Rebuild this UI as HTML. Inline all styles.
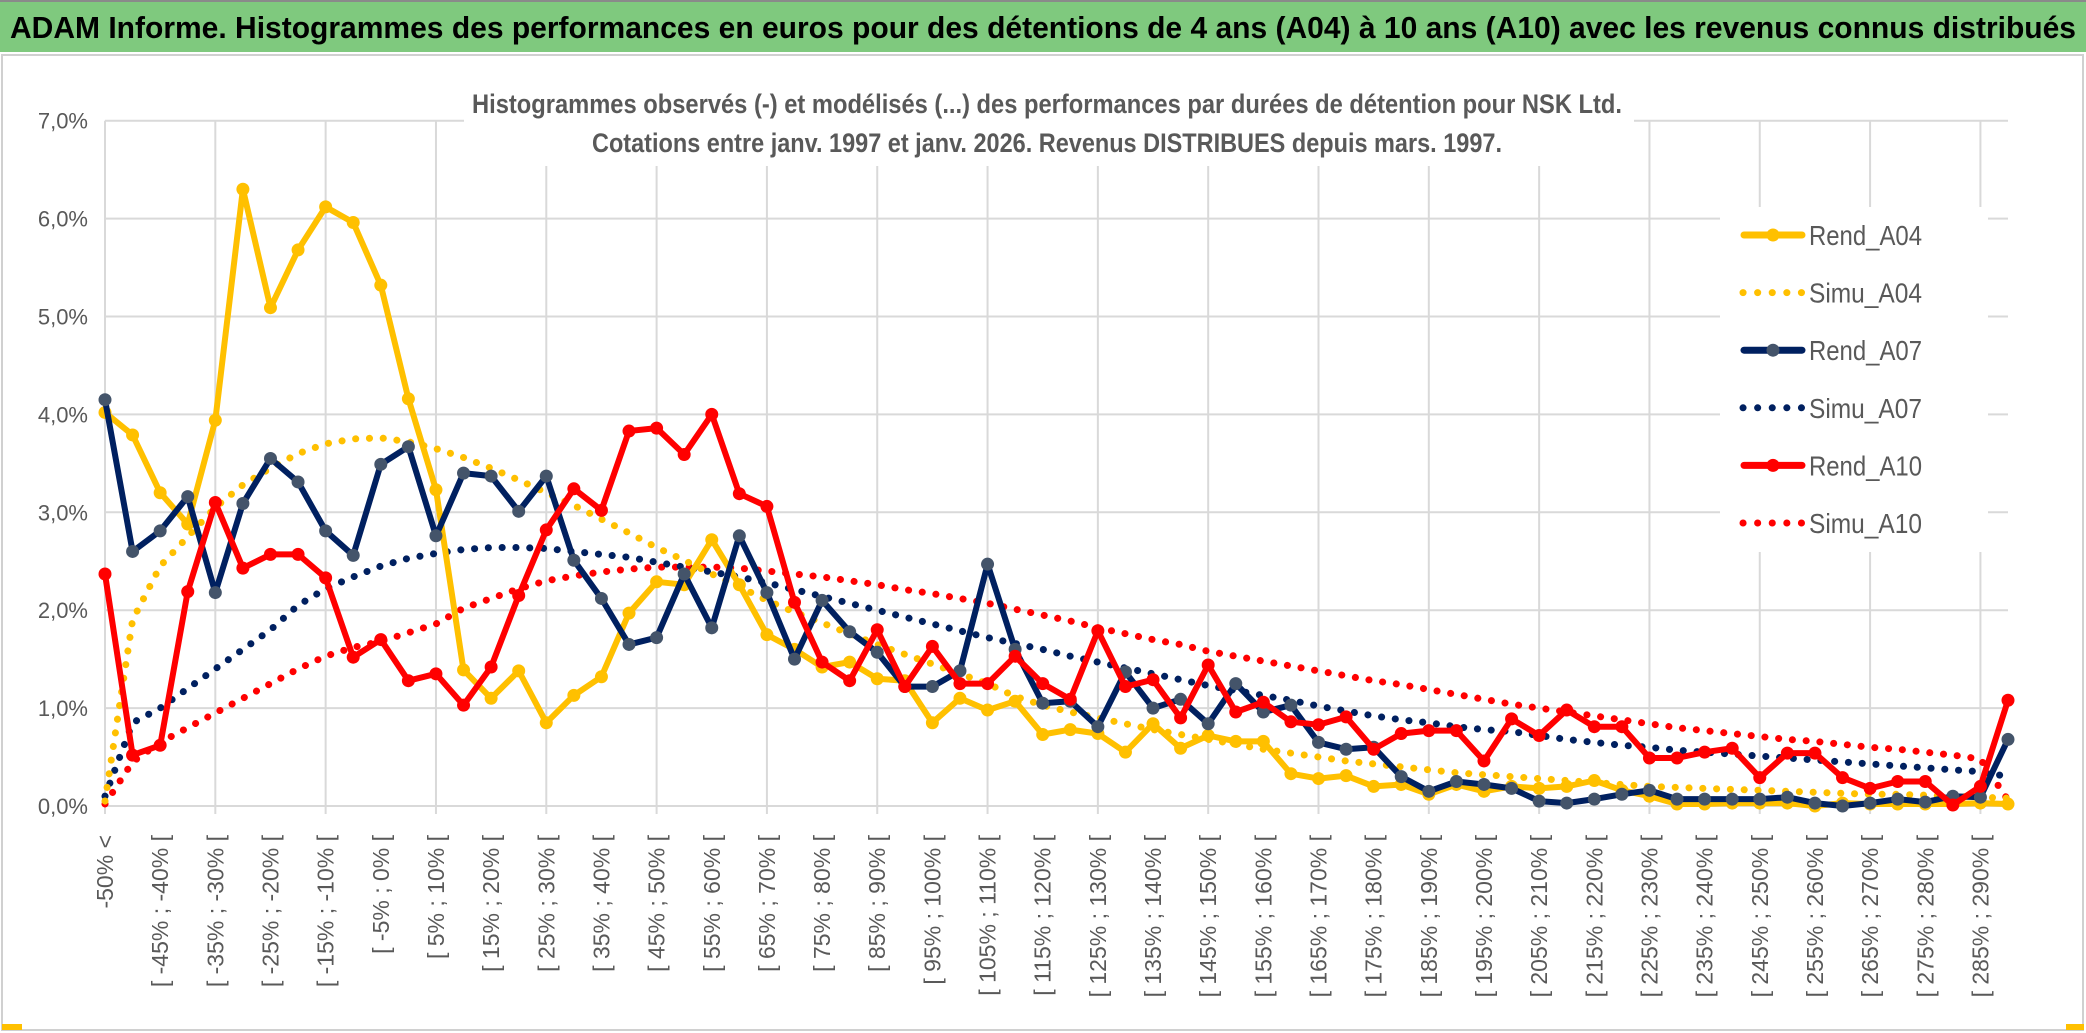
<!DOCTYPE html>
<html><head><meta charset="utf-8"><style>
html,body{margin:0;padding:0;background:#fff;}
svg{display:block;}
text{font-family:"Liberation Sans",sans-serif;}
</style></head><body>
<svg id="chart" width="2086" height="1033" viewBox="0 0 2086 1033" xmlns="http://www.w3.org/2000/svg">
<rect x="0" y="0" width="2086" height="1033" fill="#fff"/>
<rect x="0" y="2" width="2086" height="50" fill="#7fc97e"/>
<line x1="0" y1="1" x2="2086" y2="1" stroke="#8a8a8a" stroke-width="2"/>
<text x="1043" y="38" text-anchor="middle" font-size="31" font-weight="bold" fill="#000" textLength="2066" lengthAdjust="spacingAndGlyphs">ADAM Informe. Histogrammes des performances en euros pour des détentions de 4 ans (A04) à 10 ans (A10) avec les revenus connus distribués</text>
<rect x="2" y="55" width="2081" height="975" fill="none" stroke="#d0d0d0" stroke-width="2"/>
<g id="grid"></g>
<g id="series"></g>
<rect x="464" y="80" width="1170" height="86" fill="#fff"/>
<text x="1047" y="113" text-anchor="middle" font-size="27" font-weight="600" fill="#595959" textLength="1150" lengthAdjust="spacingAndGlyphs">Histogrammes observés (-) et modélisés (...) des performances par durées de détention pour NSK Ltd.</text>
<text x="1047" y="152" text-anchor="middle" font-size="27" font-weight="600" fill="#595959" textLength="910" lengthAdjust="spacingAndGlyphs">Cotations entre janv. 1997 et janv. 2026. Revenus DISTRIBUES depuis mars. 1997.</text>
<g id="yaxis"></g>
<g id="xaxis"></g>
<g id="legend"></g>
<rect x="2" y="1024" width="20" height="6" fill="#ffc000"/>
<rect x="2066" y="1024" width="18" height="6" fill="#ffc000"/>
</svg>
<script>
const yTicks = [0,1,2,3,4,5,6,7];
const yTickLabels = ["0,0%","1,0%","2,0%","3,0%","4,0%","5,0%","6,0%","7,0%"];
const categories = ["-50% <"];
for (let k = 1; k < 70; k++) { categories.push("[ " + (-55 + 5*k) + "% ; " + (-50 + 5*k) + "% ["); }
const rendA04 = [4.02,3.79,3.20,2.88,3.94,6.30,5.09,5.68,6.12,5.96,5.32,4.16,3.23,1.39,1.10,1.38,0.85,
 1.13,1.32,1.97,2.29,2.26,2.72,2.26,1.75,1.6,1.42,1.47,1.3,1.28,0.85,1.1,0.98,1.07,
 0.73,0.78,0.74,0.55,0.84,0.59,0.72,0.66,0.66,0.33,0.28,0.31,
 0.2,0.22,0.12,0.22,0.15,0.2,0.18,0.2,0.26,0.16,0.1,0.02,
 0.02,0.03,0.03,0.03,0.0,0.03,0.02,0.02,0.02,0.02,0.03,0.02];
const simuA04 = [0.05,1.9,2.45,2.75,3.05,3.28,3.45,3.6,3.7,3.75,3.76,3.72,3.65,3.56,3.45,3.33,3.2,
 3.07,2.93,2.79,2.64,2.51,2.37,2.24,2.10,1.98,1.87,1.76,1.65,1.55,1.45,1.35,1.25,1.12,
 1.03,0.96,0.9,0.84,0.78,0.73,0.68,0.63,0.58,0.54,0.5,0.46,0.43,0.4,0.37,0.34,0.32,0.3,
 0.28,0.26,0.24,0.22,0.2,0.19,0.18,0.17,0.16,0.15,0.14,0.13,0.12,0.12,0.11,0.1,0.09,0.08];
const rendA07 = [4.15,2.60,2.81,3.16,2.18,3.09,3.55,3.31,2.81,2.56,3.49,3.67,2.76,3.40,3.37,3.01,3.37,
 2.51,2.12,1.65,1.72,2.37,1.82,2.76,2.18,1.5,2.10,1.78,1.57,1.22,1.22,1.38,2.47,1.6,
 1.05,1.07,0.81,1.37,1.0,1.09,0.84,1.25,0.96,1.03,0.65,0.58,0.6,0.30,
 0.15,0.25,0.22,0.18,0.05,
 0.03,0.07,0.12,0.16,0.07,0.07,0.07,0.07,0.09,0.03,0.0,0.03,0.07,0.04,0.10,0.09,0.68];
const simuA07 = [0.1,0.85,1.0,1.2,1.4,1.6,1.8,2.05,2.22,2.34,2.45,2.53,2.58,2.62,2.64,2.64,2.63,
 2.6,2.57,2.54,2.49,2.44,2.39,2.34,2.28,2.21,2.14,2.07,2.0,1.93,1.86,1.79,1.72,1.66,
 1.60,1.53,1.47,1.41,1.35,1.29,1.23,1.18,1.13,1.08,1.02,0.97,0.92,0.88,0.85,0.81,0.78,0.76,
 0.72,0.68,0.65,0.62,0.6,0.57,0.55,0.53,0.51,0.49,0.47,0.45,0.43,0.41,0.39,0.37,0.35,0.3];
const rendA10 = [2.37,0.52,0.62,2.19,3.10,2.43,2.57,2.57,2.33,1.52,1.70,1.28,1.35,1.03,1.42,2.15,2.82,
 3.24,3.02,3.83,3.86,3.59,4.00,3.19,3.06,2.08,1.47,1.28,1.80,1.22,1.63,1.25,1.25,1.53,
 1.25,1.09,1.79,1.22,1.29,0.90,1.44,0.96,1.06,0.86,0.83,0.91,0.58,0.74,0.77,0.77,0.46,0.89,0.72,
 0.98,0.81,0.81,0.49,0.49,0.55,0.59,0.29,0.54,0.54,0.29,0.18,0.25,0.25,0.01,0.20,1.08];
const simuA10 = [0.02,0.45,0.65,0.8,0.95,1.1,1.25,1.4,1.53,1.62,1.68,1.77,1.86,2.02,2.12,2.22,2.30,
 2.35,2.39,2.42,2.44,2.44,2.44,2.43,2.40,2.37,2.34,2.30,2.26,2.21,2.17,2.12,2.07,2.01,
 1.95,1.89,1.82,1.76,1.70,1.65,1.58,1.53,1.48,1.43,1.38,1.33,1.28,1.24,1.19,1.14,1.09,1.04,1.0,
 0.96,0.92,0.88,0.84,0.80,0.77,0.74,0.71,0.68,0.66,0.63,0.60,0.58,0.55,0.52,0.48,0.06];

const NS = "http://www.w3.org/2000/svg";
const X0 = 105, X1 = 2008, Y0 = 806, PER = 97.9;
function xs(i){ return X0 + i * (X1 - X0) / (categories.length - 1); }
function ys(v){ return Y0 - v * PER; }
function mk(tag, attrs, parent){ const e = document.createElementNS(NS, tag); for (const k in attrs) e.setAttribute(k, attrs[k]); parent.appendChild(e); return e; }

const grid = document.getElementById('grid');
yTicks.forEach(function(t){
  const l = mk('line', {x1: X0, x2: X1, y1: ys(t), y2: ys(t), stroke: '#d9d9d9', 'stroke-width': 2}, grid);
  
  
});
for (let i = 0; i < categories.length; i += 4) {
  const l = mk('line', {x1: xs(i), x2: xs(i), y1: ys(7), y2: Y0 + 8, stroke: '#d9d9d9', 'stroke-width': 2}, grid);
  
  
}

const yax = document.getElementById('yaxis');
yTicks.forEach(function(t, j){
  const tx = mk('text', {x: 88, y: ys(t) + 8, 'text-anchor': 'end', 'font-size': 22, fill: '#595959'}, yax);
  tx.textContent = yTickLabels[j];
  
  
});

const xax = document.getElementById('xaxis');
categories.forEach(function(c, i){
  if (i % 2) return;
  const x = xs(i), y = 835;
  const tx = mk('text', {x: x, y: y, transform: 'rotate(-90 ' + x + ' ' + y + ')', 'text-anchor': 'end', 'dominant-baseline': 'central', 'font-size': 23, fill: '#595959'}, xax);
  tx.textContent = c;
  
  
});

const ser = document.getElementById('series');
function pts(arr){ return arr.map(function(v, i){ return xs(i).toFixed(1) + ',' + ys(v).toFixed(1); }).join(' '); }
function dotted(arr, color, name){
  const p = mk('polyline', {points: pts(arr), fill: 'none', stroke: color, 'stroke-width': 7, 'stroke-linecap': 'round', 'stroke-dasharray': '0.1 13.7'}, ser);
  
  
}
function solid(arr, color, mcolor, name){
  const g = mk('g', {}, ser);
  
  
  mk('polyline', {points: pts(arr), fill: 'none', stroke: color, 'stroke-width': 6, 'stroke-linejoin': 'round'}, g);
  arr.forEach(function(v, i){
    const c = mk('circle', {cx: xs(i), cy: ys(v), r: 6.5, fill: mcolor}, g);
    
    
  });
}
dotted(simuA10, '#ff0000', 'simu-a10-line');
dotted(simuA07, '#002060', 'simu-a07-line');
dotted(simuA04, '#ffc000', 'simu-a04-line');
solid(rendA04, '#ffc000', '#ffc000', 'rend-a04-line');
solid(rendA07, '#002060', '#44546a', 'rend-a07-line');
solid(rendA10, '#ff0000', '#ff0000', 'rend-a10-line');

const leg = document.getElementById('legend');
const bg = mk('rect', {x: 1720, y: 207, width: 268, height: 345, fill: '#fff'}, leg);


const legNames = ["Rend_A04","Simu_A04","Rend_A07","Simu_A07","Rend_A10","Simu_A10"];
const legColors = ['#ffc000','#ffc000','#002060','#002060','#ff0000','#ff0000'];
const legMarker = ['#ffc000',null,'#44546a',null,'#ff0000',null];
legNames.forEach(function(n, j){
  const y = 235 + j * 57.6;
  const g = mk('g', {}, leg);
  
  
  if (legMarker[j]) {
    mk('line', {x1: 1744, x2: 1802, y1: y, y2: y, stroke: legColors[j], 'stroke-width': 7, 'stroke-linecap': 'round'}, g);
    mk('circle', {cx: 1773, cy: y, r: 6.5, fill: legMarker[j]}, g);
  } else {
    mk('line', {x1: 1743, x2: 1803, y1: y, y2: y, stroke: legColors[j], 'stroke-width': 7, 'stroke-linecap': 'round', 'stroke-dasharray': '0.1 14.5'}, g);
  }
  const t = mk('text', {x: 1809, y: y + 10, 'font-size': 28, fill: '#595959', textLength: 113, lengthAdjust: 'spacingAndGlyphs'}, g);
  t.textContent = n;
});
</script>
</body></html>
